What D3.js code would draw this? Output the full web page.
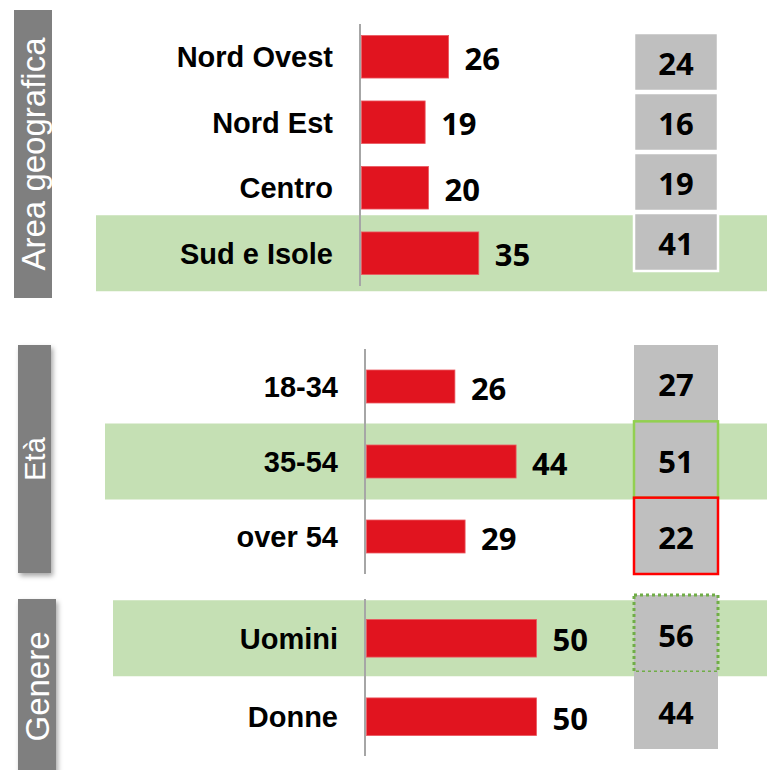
<!DOCTYPE html>
<html lang="it">
<head>
<meta charset="UTF-8">
<title>Area geografica, Età, Genere</title>
<script src="https://d3js.org/d3.v7.min.js"></script>
<style>
    body { margin: 0; background: #fff; }
    .cat text { font-family: "Liberation Sans", Arial, sans-serif; font-weight: bold; font-size: 29px; fill: #000; }
    .val { font-family: "Open Sans", "Liberation Sans", sans-serif; font-weight: bold; font-size: 31px; fill: #000; }
    .side { font-family: "Liberation Sans", Arial, sans-serif; fill: #fff; }
</style>
</head>
<body>
<svg width="767" height="770"></svg>

<script>
    // data
    var areaCats = ["Nord Ovest", "Nord Est", "Centro", "Sud e Isole"];
    var areaVals = [26, 19, 20, 35];
    var areaBox = [24, 16, 19, 41];

    var etaCats = ["18-34", "35-54", "over 54"];
    var etaVals = [26, 44, 29];
    var etaBox = [27, 51, 22];

    var genCats = ["Uomini", "Donne"];
    var genVals = [50, 50];
    var genBox = [56, 44];

    var highlight = ["Sud e Isole", "35-54", "Uomini"];

    var svg = d3.select("svg");
    var RED = "#e1141f", GREEN_BG = "#c5e0b4", BOX = "#bfbfbf";

    var defs = svg.append("defs");
    defs.append("filter").attr("id", "shadow")
        .attr("x", "-30%").attr("y", "-10%").attr("width", "160%").attr("height", "120%")
        .append("feDropShadow")
        .attr("dx", 2).attr("dy", 3).attr("stdDeviation", 2.5)
        .attr("flood-color", "#000").attr("flood-opacity", 0.35);

    var groups = [
        {title: "Area geografica", titleSize: 33, cats: areaCats, vals: areaVals, box: areaBox,
            side: [14, 10, 38, 288], shadow: false, axisX: 360, barRange: [24, 286], pad: 0.35,
            scaleW: 335, bandX: 96, boxRange: [33, 273], boxStyle: ["white", "white", "white", "white"]},
        {title: "Età", titleSize: 29, cats: etaCats, vals: etaVals, box: etaBox,
            side: [18, 345, 33, 228], shadow: true, axisX: 365, barRange: [349, 574], pad: 0.56,
            scaleW: 340, bandX: 105, boxRange: [345, 574], boxStyle: ["none", "green", "red"]},
        {title: "Genere", titleSize: 33, cats: genCats, vals: genVals, box: genBox,
            side: [18, 599, 38, 175], shadow: true, axisX: 365, barRange: [599, 756], pad: 0.52,
            scaleW: 340, bandX: 113, boxRange: [595, 749], boxStyle: ["dotted", "none"]}
    ];

    groups.forEach(function (g) {
        var y = d3.scaleBand().domain(g.cats).range(g.barRange).paddingInner(g.pad).paddingOuter(g.pad / 2);
        var x = d3.scaleLinear().domain([0, 100]).range([g.axisX + 1.5, g.axisX + 1.5 + g.scaleW]);
        var yBox = d3.scaleBand().domain(g.cats).range(g.boxRange);

        // green highlight bands
        svg.append("g").selectAll("rect")
            .data(g.cats.filter(function (c) { return highlight.indexOf(c) >= 0; }))
            .enter().append("rect")
            .attr("x", g.bandX)
            .attr("y", function (d) { return y(d) + y.bandwidth() / 2 - 38; })
            .attr("width", 767 - g.bandX)
            .attr("height", 76)
            .attr("fill", GREEN_BG);

        // side title
        var s = g.side;
        svg.append("rect")
            .attr("x", s[0]).attr("y", s[1]).attr("width", s[2]).attr("height", s[3])
            .attr("fill", "#7f7f7f")
            .attr("filter", g.shadow ? "url(#shadow)" : null);
        svg.append("text")
            .attr("class", "side")
            .attr("transform", "translate(" + (s[0] + s[2] / 2) + "," + (s[1] + s[3] / 2) + ") rotate(-90)")
            .attr("text-anchor", "middle")
            .attr("dy", "0.36em")
            .style("font-size", g.titleSize + "px")
            .text(g.title);

        // axis with category labels
        var axis = svg.append("g")
            .attr("class", "cat")
            .attr("transform", "translate(" + g.axisX + ",0)")
            .call(d3.axisLeft(y).tickSize(0).tickSizeOuter(0).tickPadding(27));
        axis.select(".domain").attr("stroke", "#a6a6a6").attr("stroke-width", 2)
            .attr("d", "M0," + g.barRange[0] + "V" + g.barRange[1]);
        axis.selectAll(".tick text").attr("dy", "0.36em");

        // bars
        svg.append("g").selectAll("rect")
            .data(g.cats)
            .enter().append("rect")
            .attr("x", x(0))
            .attr("y", function (d) { return y(d); })
            .attr("width", function (d, i) { return x(g.vals[i]) - x(0); })
            .attr("height", y.bandwidth())
            .attr("fill", RED)
            .attr("stroke", "#ea5a62")
            .attr("stroke-width", 0.8);

        svg.append("g").selectAll("text")
            .data(g.cats)
            .enter().append("text")
            .attr("class", "val")
            .attr("x", function (d, i) { return x(g.vals[i]) + 16; })
            .attr("y", function (d) { return y(d) + y.bandwidth() / 2 + 2; })
            .attr("dy", "0.36em")
            .text(function (d, i) { return g.vals[i]; });

        // gray table boxes
        var boxes = svg.append("g").selectAll("g")
            .data(g.cats)
            .enter().append("g");
        boxes.append("rect")
            .attr("x", 634)
            .attr("y", function (d) { return yBox(d); })
            .attr("width", 84)
            .attr("height", function (d, i) { return g.boxStyle[i] === "white" ? yBox.bandwidth() - 2 : yBox.bandwidth(); })
            .attr("fill", BOX)
            .attr("stroke", function (d, i) {
                var st = g.boxStyle[i];
                return st === "white" ? "#fff" : st === "green" ? "#92d050" : st === "red" ? "#ff0000" : st === "dotted" ? "#70ad47" : "none";
            })
            .attr("stroke-width", function (d, i) { return g.boxStyle[i] === "dotted" ? 3 : 2.5; })
            .attr("stroke-dasharray", function (d, i) { return g.boxStyle[i] === "dotted" ? "3,3" : null; });
        boxes.append("text")
            .attr("class", "val")
            .attr("x", 676)
            .attr("y", function (d, i) {
                var h = g.boxStyle[i] === "white" ? yBox.bandwidth() - 2 : yBox.bandwidth();
                return yBox(d) + h / 2 + 2;
            })
            .attr("dy", "0.36em")
            .attr("text-anchor", "middle")
            .text(function (d, i) { return g.box[i]; });
    });
</script>
</body>
</html>
